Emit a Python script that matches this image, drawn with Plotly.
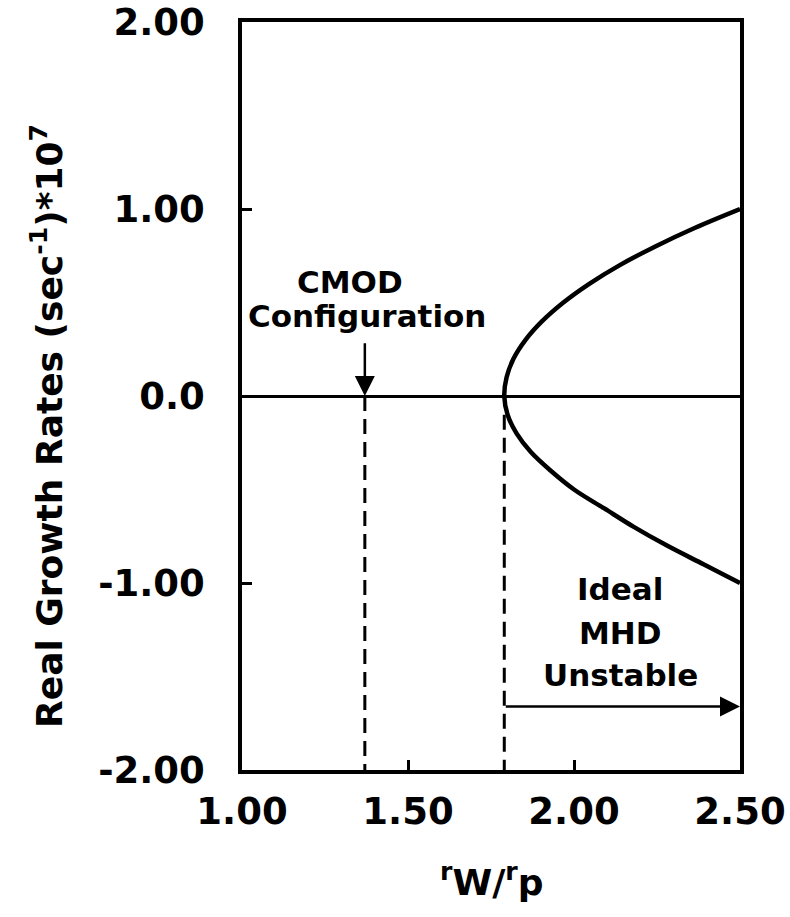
import plotly.graph_objects as go

# Data (x position of each branch at given growth rates)
y_upper = [0.0, 0.1, 0.2, 0.3, 0.4, 0.5, 0.6, 0.7, 0.8, 0.9, 1.0]
x_upper = [1.79, 1.797, 1.818, 1.854, 1.904, 1.968, 2.046, 2.138, 2.245, 2.365, 2.50]
y_lower = [0.0, -0.1, -0.2, -0.3, -0.4, -0.5, -0.6, -0.7, -0.8, -0.9, -1.0]
x_lower = [1.79, 1.80, 1.827, 1.87, 1.93, 2.00, 2.09, 2.18, 2.28, 2.39, 2.50]

x_tick_vals = [1.0, 1.5, 2.0, 2.5]
x_tick_text = ["1.00", "1.50", "2.00", "2.50"]
y_tick_vals = [2, 1, 0, -1, -2]
y_tick_text = ["2.00", "1.00", "0.0", "-1.00", "-2.00"]

cmod_x = 1.37
mhd_x = 1.79
mhd_dash_top = -0.10
arrow_y = -1.66

FONT = "DejaVu Sans"

fig = go.Figure()

# growth-rate branches (one continuous path through the vertex)
path_x = list(reversed(x_upper)) + x_lower[1:]
path_y = list(reversed(y_upper)) + y_lower[1:]
fig.add_trace(go.Scatter(x=path_x, y=path_y, mode="lines",
                         line=dict(color="black", width=4.5, shape="spline", smoothing=1.0), hoverinfo="skip"))

# dashed verticals
fig.add_trace(go.Scatter(x=[cmod_x, cmod_x], y=[0, -2], mode="lines",
                         line=dict(color="black", width=3, dash="15px,8px"), hoverinfo="skip"))
fig.add_trace(go.Scatter(x=[mhd_x, mhd_x], y=[mhd_dash_top, -2], mode="lines",
                         line=dict(color="black", width=3, dash="15px,8px"), hoverinfo="skip"))

txt = dict(family=FONT, size=31, color="black", weight="bold")

# CMOD arrow
fig.add_annotation(x=cmod_x, y=0, ax=cmod_x, ay=0.29, xref="x", yref="y", axref="x", ayref="y",
                   text="", showarrow=True, arrowhead=2, arrowsize=1.6, arrowwidth=2.5, arrowcolor="black", standoff=0)
fig.add_annotation(x=1.325, y=0.61, xref="x", yref="y", text="CMOD", showarrow=False, font=txt)
fig.add_annotation(x=1.376, y=0.43, xref="x", yref="y", text="Configuration", showarrow=False, font=txt)

# Ideal MHD unstable arrow
fig.add_annotation(x=2.5, y=arrow_y, ax=mhd_x, ay=arrow_y, xref="x", yref="y", axref="x", ayref="y",
                   text="", showarrow=True, arrowhead=2, arrowsize=1.6, arrowwidth=2.5, arrowcolor="black", standoff=0)
fig.add_annotation(x=2.14, y=-1.03, xref="x", yref="y", text="Ideal", showarrow=False, font=txt)
fig.add_annotation(x=2.14, y=-1.27, xref="x", yref="y", text="MHD", showarrow=False, font=txt)
fig.add_annotation(x=2.14, y=-1.49, xref="x", yref="y", text="Unstable", showarrow=False, font=txt)

# axis titles
fig.add_annotation(x=0, y=0.5, xref="paper", yref="paper", xshift=-195, yshift=-30,
                   xanchor="center", yanchor="middle", textangle=-90,
                   text="Real Growth Rates (sec<sup>-1</sup>)*10<sup>7</sup>", showarrow=False,
                   font=dict(family=FONT, size=36, color="black", weight="bold"))
fig.add_annotation(x=0.5, y=0, xref="paper", yref="paper", yshift=-110, xanchor="center", yanchor="middle",
                   text="<sup>r</sup>W/<sup>r</sup>p", showarrow=False,
                   font=dict(family=FONT, size=36, color="black", weight="bold"))

tickfont = dict(family=FONT, size=37, color="black", weight="bold")

fig.update_xaxes(range=[1.0, 2.5], tickvals=x_tick_vals, ticktext=x_tick_text,
                 showline=True, mirror=True, linecolor="black", linewidth=3.5,
                 ticks="inside", ticklen=10, tickwidth=2.5, tickcolor="black",
                 showgrid=False, zeroline=False, ticklabelstandoff=6, automargin=False,
                 tickfont=tickfont)
fig.update_yaxes(range=[-2, 2], tickvals=y_tick_vals, ticktext=y_tick_text,
                 showline=True, mirror=True, linecolor="black", linewidth=3.5,
                 ticks="inside", ticklen=10, tickwidth=2.5, tickcolor="black",
                 showgrid=False, zeroline=True, zerolinecolor="black", zerolinewidth=3,
                 ticklabelstandoff=26, automargin=False,
                 tickfont=tickfont)

fig.update_layout(width=790, height=917, showlegend=False,
                  margin=dict(l=242, r=50, t=22, b=147),
                  plot_bgcolor="white", paper_bgcolor="white")

fig.write_html("out.html")
